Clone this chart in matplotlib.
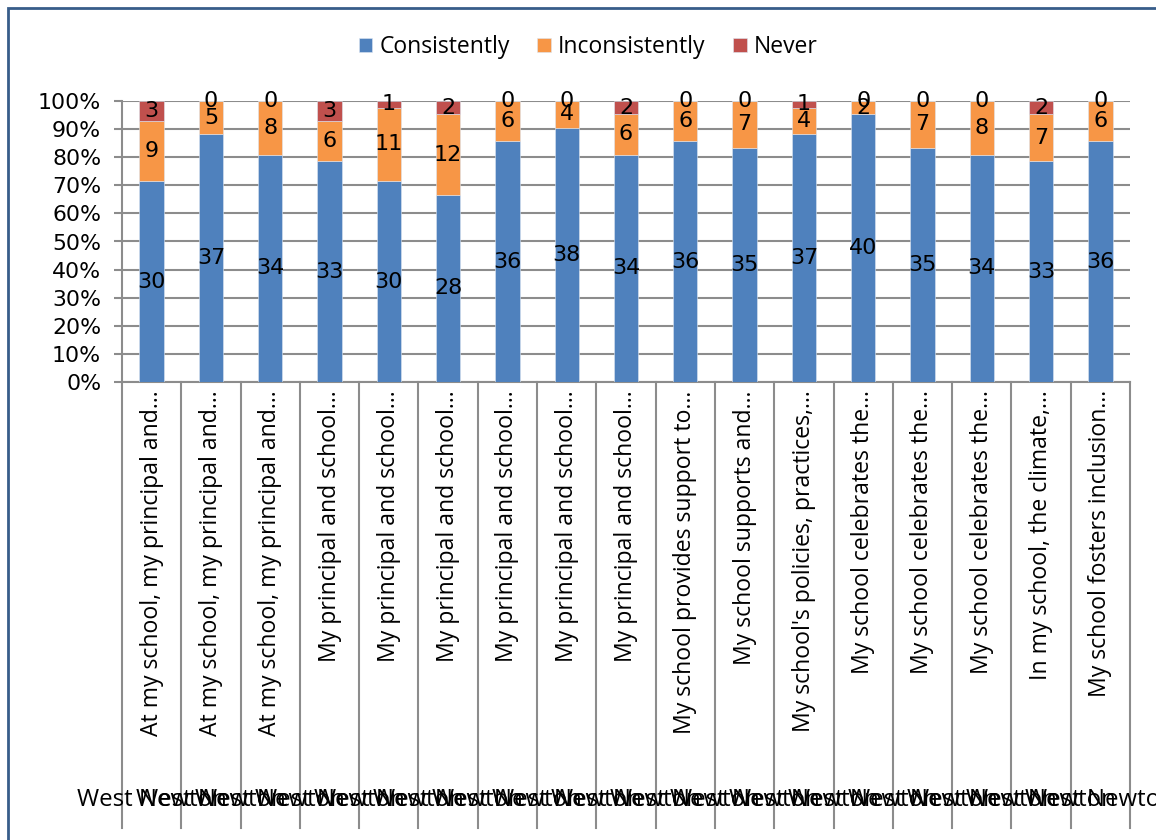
import matplotlib.pyplot as plt
import matplotlib.transforms as mtransforms
from matplotlib.patches import Rectangle
import numpy as np

plt.rcParams['font.family'] = ['Open Sans', 'DejaVu Sans']

questions = [
    "At my school, my principal and…",
    "At my school, my principal and…",
    "At my school, my principal and…",
    "My principal and school…",
    "My principal and school…",
    "My principal and school…",
    "My principal and school…",
    "My principal and school…",
    "My principal and school…",
    "My school provides support to…",
    "My school supports and…",
    "My school's policies, practices,…",
    "My school celebrates the…",
    "My school celebrates the…",
    "My school celebrates the…",
    "In my school, the climate,…",
    "My school fosters inclusion…",
]
school = "West Newton"

consistently = [30, 37, 34, 33, 30, 28, 36, 38, 34, 36, 35, 37, 40, 35, 34, 33, 36]
inconsistently = [9, 5, 8, 6, 11, 12, 6, 4, 6, 6, 7, 4, 2, 7, 8, 7, 6]
never = [3, 0, 0, 3, 1, 2, 0, 0, 2, 0, 0, 1, 0, 0, 0, 2, 0]

series = [("Consistently", consistently, "#4F81BD"),
          ("Inconsistently", inconsistently, "#F79646"),
          ("Never", never, "#C0504D")]

counts = np.array([consistently, inconsistently, never], dtype=float)
shares = counts / counts.sum(axis=0)
x = np.arange(len(questions))

fig = plt.figure(figsize=(11.56, 8.4), dpi=100)
ax = fig.add_axes([122/1156, 1-382/840, 1008/1156, 281/840])

grid_col = "#8C8C8C"
num_font = "DejaVu Sans"
bottom = np.zeros(len(x))
for (name, vals, col), share in zip(series, shares):
    ax.bar(x, share, 0.41, bottom=bottom, color=col, label=name,
           edgecolor="#DCE6F2", linewidth=0.4, zorder=3)
    for xi, b, s, v in zip(x, bottom, share, vals):
        ax.text(xi, b + s/2, str(v), ha="center", va="center",
                fontsize=16, family=num_font, color="black", zorder=4)
    bottom += share

ax.set_xlim(-0.5, len(x) - 0.5)
ax.set_ylim(0, 1)
ticks = np.arange(0, 1.01, 0.1)
ax.set_yticks(ticks)
ax.set_yticklabels([f"{int(round(t*100))}%" for t in ticks], fontsize=15.8, family=num_font)
ax.yaxis.grid(True, color=grid_col, linewidth=1.5, zorder=0)
ax.set_axisbelow(True)
ax.tick_params(axis="y", length=6, width=1.5, color=grid_col, pad=9)

ax.set_xticks(x)
ax.set_xticklabels(questions, rotation=90, fontsize=16.6, va="top", ha="center")
ax.tick_params(axis="x", length=0, pad=6)

for side in ["top", "right"]:
    ax.spines[side].set_visible(False)
for side in ["left", "bottom"]:
    ax.spines[side].set_color(grid_col)
    ax.spines[side].set_linewidth(1.5)

# category separators running down through both label rows
trans = mtransforms.blended_transform_factory(ax.transData, fig.transFigure)
for b in np.arange(-0.5, len(x), 1.0):
    ax.plot([b, b], [1-382/840, 1-828/840], color=grid_col, linewidth=1.5,
            transform=trans, clip_on=False, zorder=1)

# outer label row: school name under every question
for xi in x:
    ax.text(xi, 1-800/840, school, transform=trans, ha="center", va="center",
            fontsize=17.3, color="black", clip_on=False)

ax.legend(loc="center", bbox_to_anchor=(588/1156, 1-47/840), bbox_transform=fig.transFigure,
          ncol=3, frameon=False, fontsize=16.5, handlelength=0.6, handleheight=0.6,
          handletextpad=0.3, columnspacing=1.2)

fig.patches.append(Rectangle((8/1156, -0.05), 1.2, 1-8/840+0.05, transform=fig.transFigure,
                             fill=False, edgecolor="#385D8A", linewidth=2))

fig.savefig("out.png", dpi=100)
